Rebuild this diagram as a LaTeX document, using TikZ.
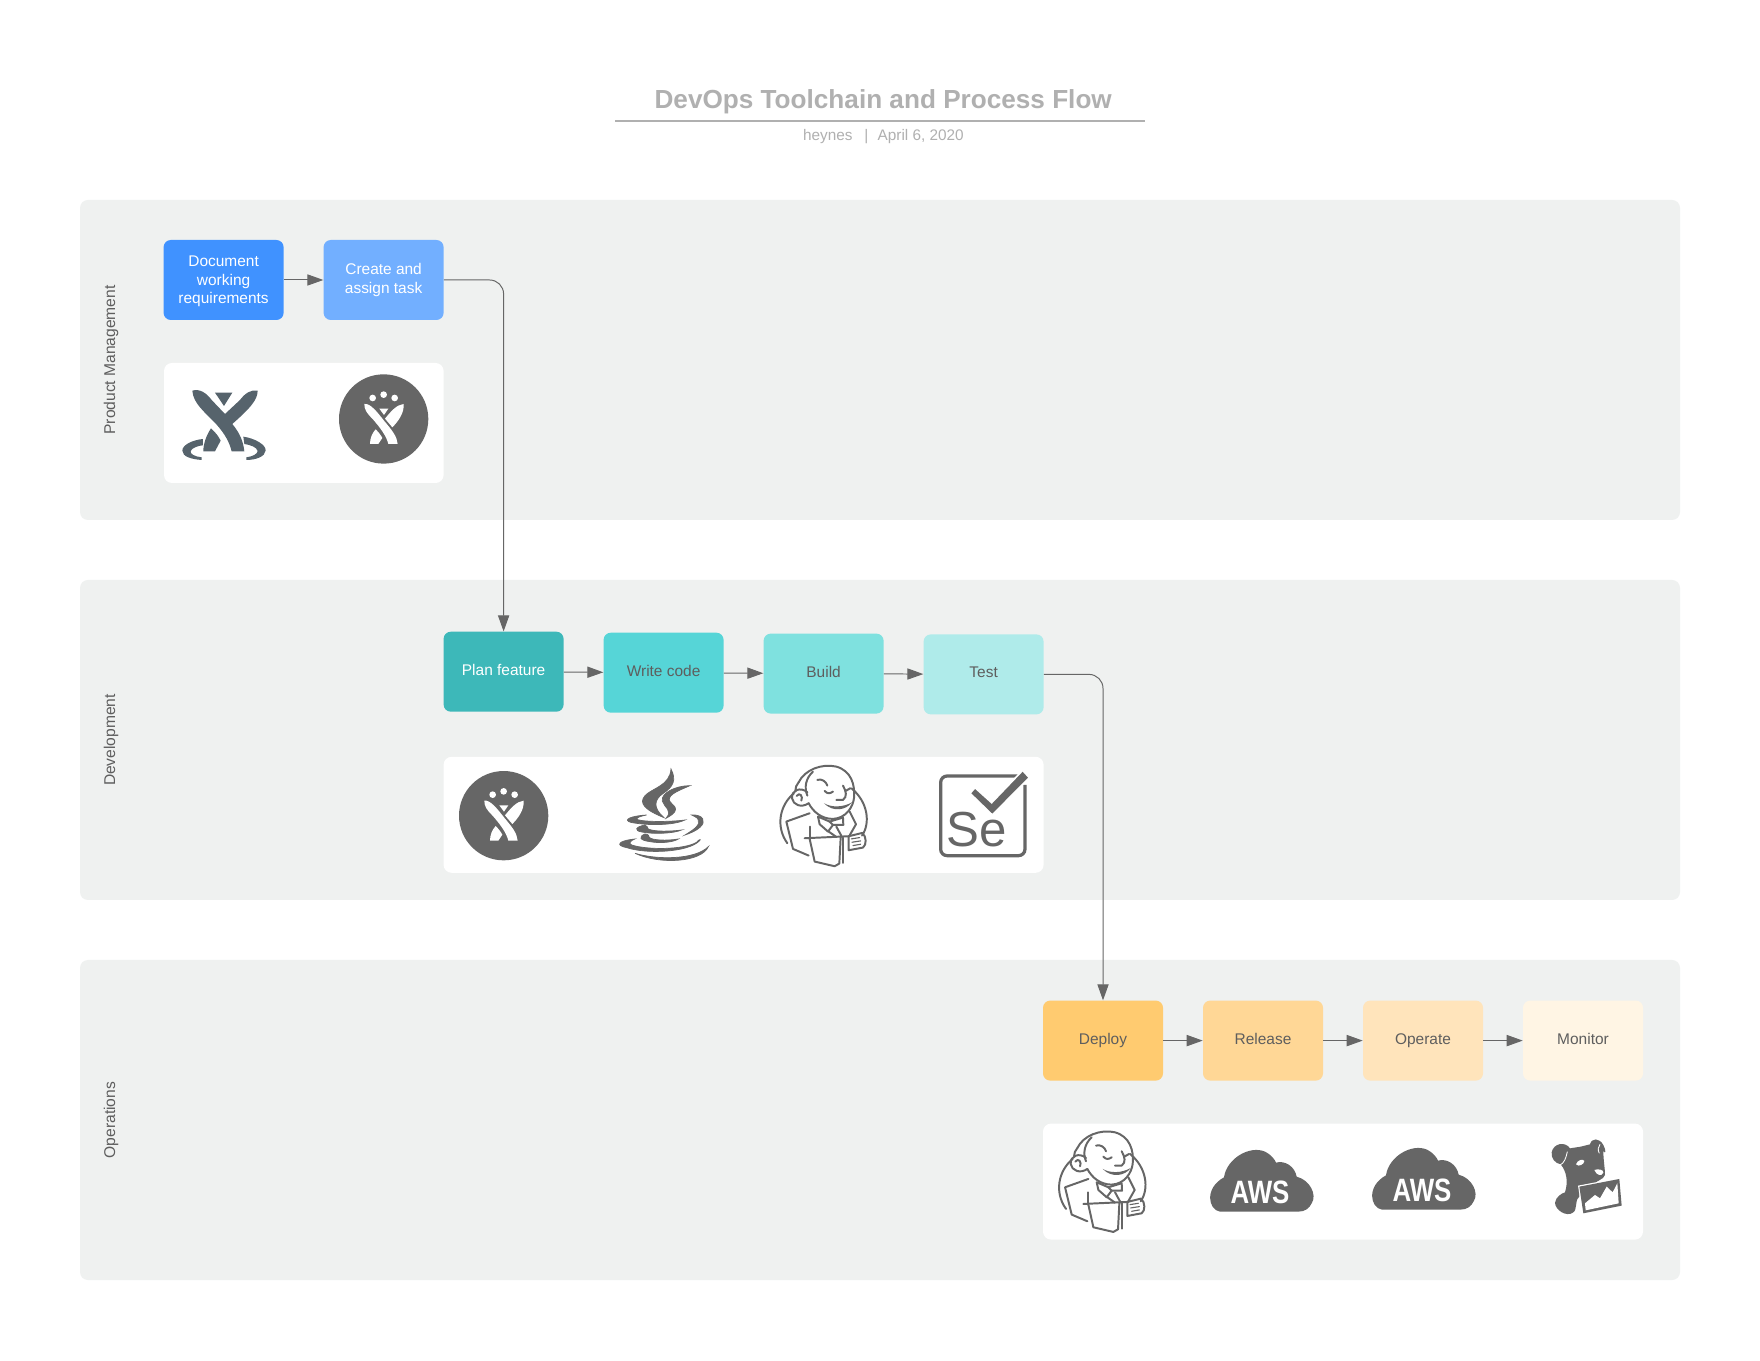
\documentclass[tikz,border=0pt]{standalone}
\usepackage{fontspec}
\setmainfont{Liberation Sans}
\usetikzlibrary{arrows.meta}
\definecolor{lanegray}{HTML}{EFF1F0}
\definecolor{flowgray}{HTML}{666666}
\definecolor{icongray}{HTML}{666666}
\definecolor{slategray}{HTML}{56636C}
\definecolor{titlegray}{HTML}{B0B0B0}
\definecolor{labelgray}{HTML}{5E5E5E}
\definecolor{docblue}{HTML}{4092FF}
\definecolor{createblue}{HTML}{72AFFF}
\definecolor{planteal}{HTML}{3DB8B9}
\definecolor{writeteal}{HTML}{56D5D7}
\definecolor{buildteal}{HTML}{7FE1DF}
\definecolor{testteal}{HTML}{AFEBEA}
\definecolor{deployorange}{HTML}{FFCB70}
\definecolor{releaseorange}{HTML}{FFD796}
\definecolor{operateorange}{HTML}{FFE4BB}
\definecolor{monitororange}{HTML}{FFF5E4}
\tikzset{
  lanebox/.style={fill=lanegray, rounded corners=0.2cm},
  toolbox/.style={fill=white, rounded corners=0.2cm},
  lanelabel/.style={rotate=90, text=labelgray, font=\fontsize{11.1}{13.1}\selectfont},
  stepbox/.style={rounded corners=0.18cm, minimum width=3cm, minimum height=2cm, inner sep=0pt, align=center, text=labelgray, font=\fontsize{11}{13.1}\selectfont},
  oneline/.style={text height=7.9pt, text depth=3pt},
  whitetext/.style={text=white},
  flowline/.style={draw=flowgray, line width=0.7pt, -{Triangle[length=0.4cm,width=0.28cm]}},
  iconunit/.style={x=0.00833cm, y=-0.00833cm},
  javafill/.style={fill=icongray, draw=icongray, line width=0.5pt},
  jenkinsline/.style={draw=icongray, line width=1.4pt, line join=round, line cap=round},
  jiraicon/.pic={
    \begin{scope}[iconunit]
    \fill[icongray] (146,153) circle [radius=134];
    \fill[white] (113,90) circle [radius=10] (146,80) circle [radius=10] (179,90) circle [radius=10];
    \fill[white] (133,122) -- (160,122) -- (147,141) -- cycle;
    \fill[white] (88,108) .. controls (105,105) and (125,130) .. (147,158)
      .. controls (172,188) and (186,205) .. (188,228) -- (160,228)
      .. controls (155,205) and (135,178) .. (112,152) .. controls (95,135) and (88,125) .. (88,108) -- cycle;
    \fill[white] (206,108) .. controls (208,135) and (190,160) .. (172,178) -- (150,152)
      .. controls (168,130) and (185,110) .. (206,108) -- cycle;
    \fill[white] (122,184) .. controls (130,192) and (138,202) .. (142,210) -- (130,228) -- (105,228)
      .. controls (105,210) and (112,195) .. (122,184) -- cycle;
    \end{scope}
  },
  confluenceicon/.pic={
    \begin{scope}[iconunit]
    \fill[slategray] (52,32) .. controls (75,25) and (95,40) .. (110,60) -- (150,102) -- (195,60)
      .. controls (210,40) and (228,28) .. (248,32) .. controls (248,60) and (225,85) .. (172,132)
      .. controls (195,160) and (205,185) .. (208,214) -- (170,214)
      .. controls (163,185) and (148,160) .. (125,134) .. controls (85,92) and (55,70) .. (52,32) -- cycle;
    \fill[slategray] (120,38) -- (172,38) -- (147,78) -- cycle;
    \fill[slategray] (108,145) .. controls (122,158) and (130,168) .. (137,182) -- (120,214) -- (85,214)
      .. controls (85,190) and (95,165) .. (108,145) -- cycle;
    \fill[slategray] (84,177) .. controls (52,180) and (22,195) .. (22,212) .. controls (22,230) and (50,238) .. (80,240)
      -- (80,232) .. controls (60,230) and (44,222) .. (47,213) .. controls (52,203) and (70,197) .. (84,196) -- cycle;
    \fill[slategray] (205,170) .. controls (240,175) and (274,195) .. (272,212) .. controls (270,230) and (243,240) .. (214,240)
      -- (214,232) .. controls (232,230) and (248,222) .. (248,213) .. controls (245,202) and (228,195) .. (208,192) -- cycle;
    \end{scope}
  },
  javaicon/.pic={
    \begin{scope}[iconunit]
    \filldraw[javafill] (183,12) .. controls (200,45) and (190,65) .. (160,85) .. controls (130,105) and (130,130) .. (162,158)
      .. controls (105,135) and (85,115) .. (105,92) .. controls (125,70) and (180,62) .. (183,12) -- cycle;
    \filldraw[javafill] (240,62) .. controls (210,75) and (175,88) .. (178,105) .. controls (180,120) and (225,130) .. (168,160)
      .. controls (190,135) and (162,128) .. (157,108) .. controls (152,85) and (195,62) .. (240,62) -- cycle;
    \filldraw[javafill] (110,150) .. controls (60,153) and (38,165) .. (62,172) .. controls (110,182) and (190,182) .. (225,165)
      .. controls (190,170) and (110,172) .. (82,164) .. controls (75,158) and (95,153) .. (110,150) -- cycle;
    \filldraw[javafill] (245,150) .. controls (280,148) and (290,170) .. (270,187) .. controls (258,198) and (240,205) .. (225,210)
      .. controls (250,195) and (272,180) .. (265,165) .. controls (262,155) and (250,155) .. (245,150) -- cycle;
    \filldraw[javafill] (105,180) .. controls (75,186) and (72,197) .. (95,201) .. controls (130,208) and (190,206) .. (215,195)
      .. controls (180,200) and (130,200) .. (115,192) .. controls (110,188) and (115,183) .. (105,180) -- cycle;
    \filldraw[javafill] (105,207) .. controls (85,215) and (88,226) .. (120,230) .. controls (150,236) and (190,232) .. (205,222)
      .. controls (170,228) and (125,226) .. (118,217) .. controls (115,212) and (118,209) .. (105,207) -- cycle;
    \filldraw[javafill] (75,222) .. controls (20,228) and (18,242) .. (50,248) .. controls (110,268) and (235,262) .. (268,228)
      .. controls (276,222) and (266,222) .. (260,232) .. controls (220,255) and (110,255) .. (65,240) .. controls (55,235) and (60,228) .. (75,222) -- cycle;
    \filldraw[javafill] (75,265) .. controls (140,285) and (255,285) .. (295,245) .. controls (275,292) and (150,300) .. (75,265) -- cycle;
    \end{scope}
  },
  jenkinsicon/.pic={
    \begin{scope}[iconunit]
    % round backdrop
    \draw[jenkinsline] (78,95) .. controls (35,130) and (22,195) .. (58,245);
    \draw[jenkinsline] (250,80) .. controls (300,120) and (308,185) .. (282,222);
    % head and ear
    \draw[jenkinsline] (92,62) .. controls (110,25) and (160,5) .. (205,15) .. controls (250,28) and (262,70) .. (258,110)
      .. controls (255,135) and (235,170) .. (195,172) .. controls (160,172) and (135,150) .. (122,125);
    \draw[jenkinsline] (92,62) .. controls (85,70) and (82,78) .. (82,88);
    \draw[jenkinsline] (118,92) .. controls (98,75) and (70,85) .. (72,110) .. controls (75,130) and (100,140) .. (122,125);
    \draw[jenkinsline] (86,103) .. controls (95,90) and (106,105) .. (100,117);
    \draw[jenkinsline] (135,30) .. controls (113,50) and (108,78) .. (118,102);
    % face
    \draw[jenkinsline] (148,55) .. controls (160,50) and (175,60) .. (178,72);
    \draw[jenkinsline] (170,88) .. controls (178,97) and (185,97) .. (195,90);
    \draw[jenkinsline] (233,88) -- (247,80);
    \draw[jenkinsline] (225,72) .. controls (235,90) and (238,105) .. (225,115) -- (205,115);
    \fill[icongray] (168,125) .. controls (190,138) and (225,138) .. (252,122) .. controls (235,146) and (195,153) .. (168,125) -- cycle;
    % jacket and collar
    \draw[jenkinsline] (125,155) -- (55,180) -- (75,262) -- (122,282);
    \draw[jenkinsline] (245,150) -- (264,188) -- (243,225);
    \draw[jenkinsline] (125,195) -- (125,232);
    \draw[jenkinsline] (150,165) -- (185,180) -- (225,168) -- (226,190) -- (195,190) -- (180,210) -- (155,188) -- cycle;
    \draw[jenkinsline] (185,180) -- (195,190);
    \draw[jenkinsline] (182,210) -- (205,226);
    \draw[jenkinsline] (205,195) -- (222,226);
    % apron and hand
    \draw[jenkinsline] (110,230) -- (242,224);
    \draw[jenkinsline] (125,232) -- (140,300) -- (200,314) -- (214,306) -- (218,228);
    \draw[jenkinsline] (242,224) -- (283,214) .. controls (296,225) and (296,250) .. (285,258) -- (242,266) -- cycle;
    \draw[jenkinsline] (226,228) -- (226,304);
    \draw[jenkinsline, line width=0.8pt] (250,232) -- (275,228) (252,242) -- (278,238) (255,252) -- (278,248);
    \end{scope}
  },
  seleniumicon/.pic={
    \begin{scope}[iconunit]
    \draw[icongray, line width=2.3pt, rounded corners=0.16cm] (268,33) -- (32,33) -- (32,272) -- (285,272) -- (285,60);
    \fill[icongray, draw=white, line width=1.2pt] (135,68) -- (185,113) -- (278,16) -- (298,38) -- (187,150) -- (120,85) -- cycle;
    \node[text=icongray, inner sep=0pt, font=\fontsize{35}{35}\selectfont] (-label) at (141,195) {Se};
    \end{scope}
  },
  awsicon/.pic={
    \begin{scope}[iconunit]
    \fill[icongray] (60,215) .. controls (25,210) and (12,145) .. (72,112) .. controls (80,55) and (150,15) .. (195,35)
      .. controls (215,45) and (225,60) .. (228,68) .. controls (255,60) and (285,80) .. (290,110)
      .. controls (330,120) and (352,165) .. (335,190) .. controls (328,205) and (315,215) .. (295,215) -- cycle;
    \node[text=white, inner sep=0pt, xscale=0.8, font=\bfseries\fontsize{23}{23}\selectfont] (-label) at (180,157) {AWS};
    \end{scope}
  },
  dogicon/.pic={
    \begin{scope}[iconunit]
    \fill[icongray] (35,52) .. controls (40,25) and (75,18) .. (90,40) -- (122,35) -- (150,28)
      .. controls (155,8) and (178,8) .. (190,30) .. controls (198,45) and (198,60) .. (190,48)
      .. controls (190,75) and (195,100) .. (195,120) .. controls (190,135) and (170,135) .. (160,150)
      -- (120,155) -- (118,185) .. controls (105,190) and (112,225) .. (100,232)
      .. controls (80,248) and (45,225) .. (45,203) .. controls (48,185) and (65,175) .. (75,172)
      .. controls (85,140) and (80,110) .. (62,88) .. controls (45,85) and (33,70) .. (35,52) -- cycle;
    \fill[white] (108,88) .. controls (112,75) and (130,70) .. (133,78) .. controls (133,88) and (115,97) .. (108,88) -- cycle;
    \fill[white] (163,105) .. controls (175,100) and (192,105) .. (190,113) .. controls (185,125) and (170,122) .. (163,105) -- cycle;
    \draw[white, line width=0.6pt] (60,90) .. controls (72,85) and (78,70) .. (82,50);
    \draw[white, line width=0.6pt] (180,28) .. controls (175,35) and (172,45) .. (178,55);
    \fill[white] (114,152) -- (241,128) -- (249,215) -- (128,240) -- cycle;
    \fill[icongray] (118,155) -- (238,132) -- (245,212) -- (130,235) -- cycle;
    \fill[white] (137,226) -- (236,205) -- (232,145) -- (218,172) -- (200,155) -- (180,190) -- (165,180) -- (135,205) -- cycle;
    \end{scope}
  },
}
\begin{document}
\begin{tikzpicture}
    \useasboundingbox (0,0) rectangle (44,34);
    \fill[white] (0,0) rectangle (44,34);
    % title
    \node[text=titlegray, font=\bfseries\fontsize{18.6}{22}\selectfont] (title) at (22.08,31.465) {DevOps Toolchain and Process Flow};
    \coordinate (ruleleft) at (15.375,30.97);
    \coordinate (ruleright) at (28.625,30.97);
    \draw[titlegray, line width=1.2pt] (ruleleft) -- (ruleright);
    \node[text=titlegray, font=\fontsize{10.9}{13}\selectfont] (subtitle) at (22.085,30.575) {heynes\hspace{8.5pt}|\hspace{6.6pt}April 6, 2020};
    % lanes
    \fill[lanebox] (2,21) rectangle (42,29);
    \fill[lanebox] (2,11.5) rectangle (42,19.5);
    \fill[lanebox] (2,2) rectangle (42,10);
    \node[lanelabel] (pmlabel) at (2.78,25) {Product Management};
    \node[lanelabel] (devlabel) at (2.78,15.5) {Development};
    \node[lanelabel] (opslabel) at (2.78,6) {Operations};
    % tool panels
    \fill[toolbox] (4.1,21.925) rectangle (11.09,24.925);
    \fill[toolbox] (11.09,12.18) rectangle (26.09,15.08);
    \fill[toolbox] (26.075,3.01) rectangle (41.075,5.91);
    % steps
    \node[stepbox, whitetext, fill=docblue] (doc) at (5.59,27) {\rule{0pt}{10pt}Document\\working\\requirements};
    \node[stepbox, whitetext, fill=createblue] (create) at (9.59,27) {Create and\\assign task};
    \node[stepbox, oneline, whitetext, fill=planteal] (plan) at (12.59,17.2075) {Plan feature};
    \node[stepbox, oneline, fill=writeteal] (write) at (16.59,17.1825) {Write code};
    \node[stepbox, oneline, fill=buildteal] (build) at (20.59,17.16) {Build};
    \node[stepbox, oneline, fill=testteal] (test) at (24.59,17.14) {Test};
    \node[stepbox, oneline, fill=deployorange] (deploy) at (27.575,7.985) {Deploy};
    \node[stepbox, oneline, fill=releaseorange] (release) at (31.575,7.985) {Release};
    \node[stepbox, oneline, fill=operateorange] (operate) at (35.575,7.985) {Operate};
    \node[stepbox, oneline, fill=monitororange] (monitor) at (39.575,7.985) {Monitor};
    % connectors
    \draw[flowline] (doc) -- (create);
    \draw[flowline, rounded corners=0.35cm] (create.east) -| (plan.north);
    \draw[flowline] (plan) -- (write);
    \draw[flowline] (write) -- (build);
    \draw[flowline] (build) -- (test);
    \draw[flowline, rounded corners=0.35cm] (test.east) -| (deploy.north);
    \draw[flowline] (deploy) -- (release);
    \draw[flowline] (release) -- (operate);
    \draw[flowline] (operate) -- (monitor);
    % icons
    \pic (confluence) at (4.375,24.5) {confluenceicon};
    \pic (jiraone) at (8.375,24.8) {jiraicon};
    \pic (jiratwo) at (11.375,14.8825) {jiraicon};
    \pic (java) at (15.25,14.875) {javaicon};
    \pic (jenkinsone) at (19.2,14.96) {jenkinsicon};
    \pic (selenium) at (23.25,14.875) {seleniumicon};
    \pic (jenkinstwo) at (26.1675,5.8175) {jenkinsicon};
    \pic (awsone) at (30,5.5) {awsicon};
    \pic (awstwo) at (34.05,5.55) {awsicon};
    \pic (datadog) at (38.5,5.625) {dogicon};
\end{tikzpicture}
\end{document}
